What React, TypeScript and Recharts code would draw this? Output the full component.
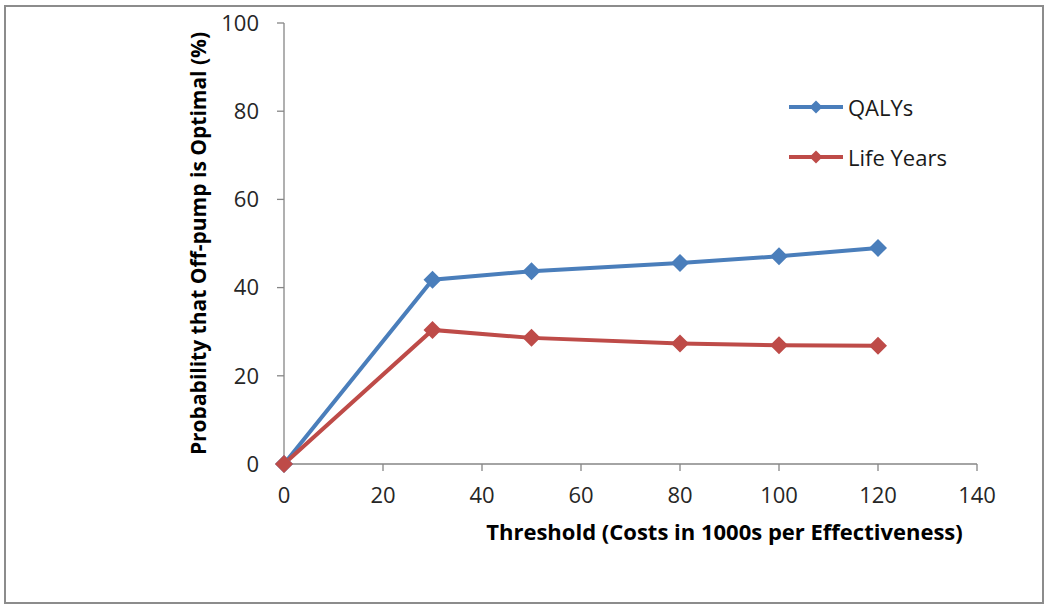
import { LineChart, Line, XAxis, YAxis, Legend, Label } from 'recharts';

const thresholds = [0, 30, 50, 80, 100, 120];
const qalys = [0, 41.8, 43.7, 45.6, 47.1, 49.0];
const lifeYears = [0, 30.4, 28.6, 27.3, 26.9, 26.8];
const xTicks = [0, 20, 40, 60, 80, 100, 120, 140];
const yTicks = [0, 20, 40, 60, 80, 100];
const seriesOrder = ['QALYs', 'Life Years'];

const BLUE = '#4A7EBB';
const RED = '#BE4B48';
const AXIS = '#868686';
const FONT = '"Open Sans", Lato, sans-serif';

const data = thresholds.map((t, i) => ({ t, qalys: qalys[i], life: lifeYears[i] }));

function Diamond(props: { cx?: number; cy?: number; fill: string; r: number }) {
  const { cx, cy, fill, r } = props;
  if (cx == null || cy == null) return null;
  return (
    <polygon
      points={`${cx},${cy - r} ${cx + r},${cy} ${cx},${cy + r} ${cx - r},${cy}`}
      fill={fill}
    />
  );
}

function ChartLegend({ payload }: { payload?: Array<{ value: string; color: string }> }) {
  if (!payload) return null;
  const items = seriesOrder
    .map((name) => payload.find((p) => p.value === name))
    .filter(Boolean) as Array<{ value: string; color: string }>;
  return (
    <div style={{ fontFamily: FONT, fontSize: 22, color: '#1a1a1a' }}>
      {items.map((p) => (
        <div key={p.value} style={{ display: 'flex', alignItems: 'center', height: 22, marginBottom: 28 }}>
          <svg width={56} height={22}>
            <line x1={1} y1={11} x2={55} y2={11} stroke={p.color} strokeWidth={4} />
            <polygon points="28,4.5 34.5,11 28,17.5 21.5,11" fill={p.color} />
          </svg>
          <span style={{ marginLeft: 4, lineHeight: '22px' }}>{p.value}</span>
        </div>
      ))}
    </div>
  );
}

export default function App() {
  const tickStyle = { fontSize: 22, fill: '#262626', fontFamily: FONT };
  return (
    <div style={{ position: 'absolute', left: 0, top: 0, width: 1045, height: 604, background: '#fff' }}>
      <div
        style={{
          position: 'absolute',
          left: 4,
          top: 5,
          width: 1040,
          height: 599,
          border: '2px solid #8c8c8c',
          boxSizing: 'border-box',
        }}
      />
      <div style={{ position: 'absolute', left: 0, top: 0 }}>
        <LineChart width={1045} height={604} data={data} margin={{ top: 23, right: 68, left: 184, bottom: 60 }}>
          <XAxis
            dataKey="t"
            type="number"
            domain={[0, 140]}
            ticks={xTicks}
            tick={tickStyle}
            tickSize={7}
            tickMargin={16}
            height={80}
            stroke={AXIS}
            strokeWidth={1.3}
          >
            <Label
              value="Threshold (Costs in 1000s per Effectiveness)"
              position="insideBottom"
              offset={4}
              dx={94}
              style={{ fontSize: 22, fontWeight: 700, fill: '#000', fontFamily: FONT }}
            />
          </XAxis>
          <YAxis
            type="number"
            domain={[0, 100]}
            ticks={yTicks}
            tick={tickStyle}
            tickSize={7}
            tickMargin={18}
            width={100}
            stroke={AXIS}
            strokeWidth={1.3}
          >
            <Label
              value="Probability that Off-pump is Optimal (%)"
              angle={-90}
              position="insideLeft"
              offset={15}
              style={{ fontSize: 21, fontWeight: 700, fill: '#000', fontFamily: FONT, textAnchor: 'middle' }}
            />
          </YAxis>
          <Legend
            layout="vertical"
            verticalAlign="middle"
            align="center"
            wrapperStyle={{ left: 788, top: 96, width: 220 }}
            content={<ChartLegend />}
          />
          <Line
            dataKey="qalys"
            name="QALYs"
            stroke={BLUE}
            strokeWidth={4}
            dot={<Diamond fill={BLUE} r={9} />}
            activeDot={false}
            isAnimationActive={false}
          />
          <Line
            dataKey="life"
            name="Life Years"
            stroke={RED}
            strokeWidth={4}
            dot={<Diamond fill={RED} r={9} />}
            activeDot={false}
            isAnimationActive={false}
          />
        </LineChart>
      </div>
    </div>
  );
}
